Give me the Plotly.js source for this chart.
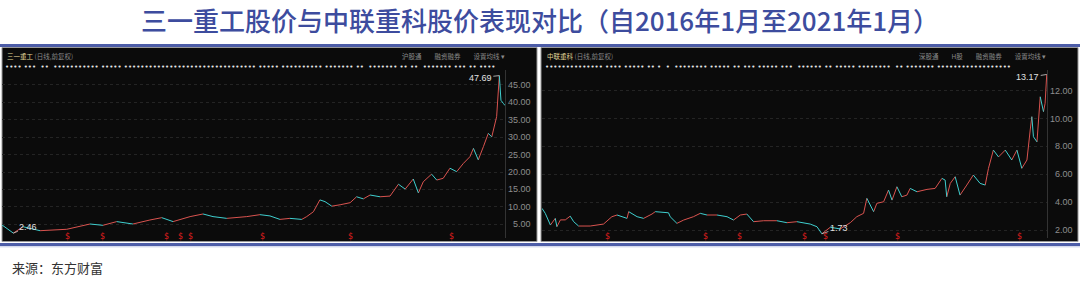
<!DOCTYPE html>
<html><head><meta charset="utf-8">
<script src="https://cdn.plot.ly/plotly-3.0.1.min.js"></script>
<style>html,body{margin:0;padding:0;background:#fff;}#chart{width:1080px;height:283px;}</style>
</head><body><div id="chart"></div>
<script>
// ---- Data ----
const titleText = '三一重工股价与中联重科股价表现对比（自2016年1月至2021年1月）';
const sourceText = '来源：东方财富';
const stock1Name = '三一重工';
const stock2Name = '中联重科';

const sanyDates = ['2016-01-04','2016-02-15','2016-03-22','2016-05-24','2016-08-31','2016-11-25','2017-01-12','2017-03-04','2017-05-03','2017-07-05','2017-08-18','2017-09-29','2017-12-01','2018-01-18','2018-02-24','2018-04-16','2018-06-29','2018-08-17','2018-09-23','2018-10-30','2018-12-06','2019-01-19','2019-02-06','2019-03-03','2019-03-27','2019-04-15','2019-05-10','2019-06-10','2019-07-17','2019-08-10','2019-09-04','2019-09-29','2019-11-05','2019-12-12','2020-01-12','2020-02-06','2020-03-07','2020-03-26','2020-04-13','2020-05-14','2020-06-02','2020-06-26','2020-07-21','2020-08-15','2020-09-09','2020-10-03','2020-10-16','2020-11-03','2020-11-22','2020-12-10','2020-12-23','2021-01-10','2021-01-20','2021-01-26','2021-02-04','2021-02-10'];
const sanyPrices = [4.8,2.46,4.3,3.16,3.56,5.08,4.7,5.77,5.08,6.23,6.9,5.77,7.2,7.96,7.2,6.7,7.2,7.76,7.4,6.4,6.7,6.4,7.2,8.6,12.0,11.5,10.2,10.6,11.2,12.9,12.3,13.4,12.9,13.1,16.5,15.1,18.0,14.0,17.2,19.4,17.7,18.2,21.1,20.1,22.5,24.4,26.8,23.5,27.3,31.1,30.1,35.9,47.69,40.6,39.7,39.1];

const zoomlionDates = ['2016-01-04','2016-01-16','2016-02-04','2016-02-22','2016-02-28','2016-03-12','2016-03-30','2016-04-17','2016-04-30','2016-05-18','2016-06-30','2016-08-18','2016-09-18','2016-10-07','2016-11-13','2016-11-19','2016-12-20','2017-01-13','2017-02-13','2017-02-25','2017-04-15','2017-04-21','2017-05-16','2017-06-10','2017-07-16','2017-08-10','2017-09-04','2017-10-11','2017-11-17','2017-12-11','2018-01-05','2018-01-29','2018-02-23','2018-04-01','2018-05-20','2018-06-26','2018-08-02','2018-09-20','2018-10-15','2018-11-02','2018-12-03','2019-01-09','2019-02-15','2019-03-11','2019-04-05','2019-04-17','2019-05-12','2019-05-24','2019-06-18','2019-07-06','2019-07-19','2019-08-06','2019-08-24','2019-09-12','2019-09-24','2019-10-19','2019-11-25','2019-12-25','2020-01-19','2020-01-31','2020-02-06','2020-02-19','2020-03-08','2020-03-26','2020-04-20','2020-05-14','2020-06-08','2020-06-27','2020-07-09','2020-07-27','2020-08-15','2020-09-09','2020-10-03','2020-10-22','2020-11-09','2020-11-28','2020-12-10','2020-12-16','2020-12-22','2021-01-04','2021-01-16','2021-01-28','2021-02-03','2021-02-09'];
const zoomlionPrices = [3.56,3.2,2.36,2.84,2.24,2.73,2.73,3.0,2.6,2.29,2.29,2.43,2.96,3.08,2.84,3.32,2.96,2.84,3.15,3.32,3.24,2.96,2.48,2.72,2.96,3.2,3.08,3.08,2.96,2.72,3.08,3.15,2.6,2.67,2.67,2.53,2.6,2.43,2.24,1.73,2.2,2.08,2.53,2.96,3.2,4.28,3.32,3.92,4.03,4.87,4.15,5.11,4.39,4.51,4.99,4.75,4.92,4.99,5.71,5.59,4.39,5.35,5.83,4.51,5.23,5.95,5.35,5.23,6.43,7.74,7.25,7.74,7.03,7.74,6.43,7.03,9.18,10.14,8.7,8.33,11.57,10.5,11.1,13.17];

const sanyTicks = [5,10,15,20,25,30,35,40,45];
const zoomlionTicks = [2,4,6,8,10,12];

const sanyMarkerDates = ['2016-09-01','2017-01-09','2017-09-03','2017-10-28','2017-12-04','2018-08-28','2019-07-20','2020-07-25'];
const zoomlionMarkerDates = ['2016-08-31','2017-08-31','2018-01-02','2018-08-29','2018-11-14','2019-08-10','2020-10-30'];

const sanyHeaderRight = '沪股通　　融资融券　　设置均线 ▾';
const zoomlionHeaderRight = '深股通　　H股　　融资融券　　设置均线 ▾';
const headerSub = '(日线,前复权)';

// ---- helpers ----
const W = 1080, H = 283;
const px = v => v / W;
const py = v => (H - v) / H;
const UP = '#d9534f', DN = '#3fcfcf';

function split(dates, vals) {
  const up = {x: [], y: []}, dn = {x: [], y: []};
  for (let i = 1; i < vals.length; i++) {
    const t = vals[i] >= vals[i - 1] ? up : dn;
    t.x.push(dates[i - 1], dates[i], null);
    t.y.push(vals[i - 1], vals[i], null);
  }
  return [up, dn];
}
function segTraces(dates, vals, xa, ya) {
  const [up, dn] = split(dates, vals);
  return [
    {type: 'scatter', mode: 'lines', x: up.x, y: up.y, xaxis: xa, yaxis: ya, line: {color: UP, width: 1}, connectgaps: false, hoverinfo: 'skip', showlegend: false},
    {type: 'scatter', mode: 'lines', x: dn.x, y: dn.y, xaxis: xa, yaxis: ya, line: {color: DN, width: 1}, connectgaps: false, hoverinfo: 'skip', showlegend: false}
  ];
}

const data = [
  ...segTraces(sanyDates, sanyPrices, 'x', 'y'),
  ...segTraces(zoomlionDates, zoomlionPrices, 'x2', 'y2')
];

const xr = ['2016-01-04', '2021-02-10'];
const yDom = [py(238), py(70)];
const tickFont = {family: 'Liberation Sans, Arial, sans-serif', size: 9, color: '#8e8e8e'};
const baseX = {showgrid: false, zeroline: false, showticklabels: false, showline: false, ticks: '', type: 'date', range: xr, fixedrange: true};
const baseY = {domain: yDom, side: 'right', showline: true, linecolor: '#333333', linewidth: 1, showgrid: true, gridcolor: '#242424', griddash: 'dot', gridwidth: 1, zeroline: false, showticklabels: false, ticks: '', fixedrange: true};

const shapes = [
  {type: 'rect', xref: 'paper', yref: 'paper', x0: px(2), x1: px(537), y0: py(241.5), y1: py(47.5), fillcolor: '#0b0b0b', line: {color: '#9a9a9a', width: 1}, layer: 'below'},
  {type: 'rect', xref: 'paper', yref: 'paper', x0: px(541), x1: px(1078), y0: py(241.5), y1: py(47.5), fillcolor: '#0b0b0b', line: {color: '#9a9a9a', width: 1}, layer: 'below'},
  {type: 'line', xref: 'paper', yref: 'paper', x0: 0, x1: 1, y0: py(45.5), y1: py(45.5), line: {color: '#4d5da8', width: 3}, layer: 'above'},
  {type: 'line', xref: 'paper', yref: 'paper', x0: 0, x1: 1, y0: py(244.5), y1: py(244.5), line: {color: '#4d5da8', width: 3}, layer: 'above'},
  {type: 'line', xref: 'paper', yref: 'paper', x0: 0, x1: 1, y0: py(246.8), y1: py(246.8), line: {color: '#c3cae6', width: 1}, layer: 'above'}
];

const hdrFont = {family: 'Noto Sans CJK SC, sans-serif', size: 6.5, color: '#8a8a8a'};
const dotFont = {family: 'DejaVu Sans, sans-serif', size: 7, color: '#e6e6e6'};
const dots1 = '•••• •••  ••  ••••••••••• ••••• •••••••••••••••••••••••••••••••• ••••• •••••••••• ••••••• ••  ••••••• •• ••  ••••••• ••• •• ••••';
const dots2 = '•••••••••••••• •••• ••••• •• •  •  •••••••• ••••• •• ••• ••••• •••  •••••• •• ••••• ••••••••  •• ••••••• ••••••••••••••••••';

const annotations = [
  {text: '<span style="color:#e2d79a">' + stock1Name + '</span> ' + headerSub, xref: 'paper', yref: 'paper', x: px(5), y: py(56.5), xanchor: 'left', yanchor: 'middle', showarrow: false, font: hdrFont},
  {text: '<span style="color:#e2d79a">' + stock2Name + '</span> ' + headerSub, xref: 'paper', yref: 'paper', x: px(545), y: py(56.5), xanchor: 'left', yanchor: 'middle', showarrow: false, font: hdrFont},
  {text: sanyHeaderRight, xref: 'paper', yref: 'paper', x: px(507), y: py(56.5), xanchor: 'right', yanchor: 'middle', showarrow: false, font: hdrFont},
  {text: zoomlionHeaderRight, xref: 'paper', yref: 'paper', x: px(1048), y: py(56.5), xanchor: 'right', yanchor: 'middle', showarrow: false, font: hdrFont},
  {text: dots1, xref: 'paper', yref: 'paper', x: px(3), y: py(67), xanchor: 'left', yanchor: 'middle', showarrow: false, font: dotFont},
  {text: dots2, xref: 'paper', yref: 'paper', x: px(543), y: py(67), xanchor: 'left', yanchor: 'middle', showarrow: false, font: dotFont},
  {text: sourceText, xref: 'paper', yref: 'paper', x: px(10), y: py(267), xanchor: 'left', yanchor: 'middle', showarrow: false, font: {family: 'Noto Sans CJK SC, sans-serif', size: 13, color: '#333333'}}
];

// y tick labels (right-aligned, placed through the y scales)
sanyTicks.forEach(v => annotations.push({text: v.toFixed(2), xref: 'paper', yref: 'y', x: px(533), y: v, xanchor: 'right', yanchor: 'middle', showarrow: false, font: tickFont}));
zoomlionTicks.forEach(v => annotations.push({text: v.toFixed(2), xref: 'paper', yref: 'y2', x: px(1075), y: v, xanchor: 'right', yanchor: 'middle', showarrow: false, font: tickFont}));

// high / low labels
function extremeLabel(dates, vals, xa, ya, which, ax, ay) {
  let idx = 0;
  for (let i = 1; i < vals.length; i++) {
    if (which === 'max' ? vals[i] > vals[idx] : vals[i] < vals[idx]) idx = i;
  }
  return {text: vals[idx].toFixed(2), x: dates[idx], y: vals[idx], xref: xa, yref: ya, showarrow: true, arrowhead: 0, arrowwidth: 0.8, arrowcolor: '#cfcfcf', ax: ax, ay: ay, font: {family: 'Liberation Sans, Arial, sans-serif', size: 9, color: '#e0e0e0'}};
}
annotations.push(extremeLabel(sanyDates, sanyPrices, 'x', 'y', 'max', -19, 2));
annotations.push(extremeLabel(sanyDates, sanyPrices, 'x', 'y', 'min', 15, -6));
annotations.push(extremeLabel(zoomlionDates, zoomlionPrices, 'x2', 'y2', 'max', -19, 3));
annotations.push(extremeLabel(zoomlionDates, zoomlionPrices, 'x2', 'y2', 'min', 17, -6));

// dividend markers
const mFont = {family: 'DejaVu Sans, sans-serif', size: 8, color: '#e01e1e'};
sanyMarkerDates.forEach(d => annotations.push({text: '$', x: d, xref: 'x', y: py(236), yref: 'paper', xanchor: 'center', yanchor: 'middle', showarrow: false, font: mFont}));
zoomlionMarkerDates.forEach(d => annotations.push({text: '$', x: d, xref: 'x2', y: py(236), yref: 'paper', xanchor: 'center', yanchor: 'middle', showarrow: false, font: mFont}));

const r1 = [1.06, 49.3], r2 = [1.43, 13.49];
const layout = {
  width: W, height: H,
  margin: {l: 0, r: 0, t: 0, b: 0, pad: 0},
  paper_bgcolor: '#ffffff', plot_bgcolor: 'rgba(0,0,0,0)',
  showlegend: false,
  title: {text: titleText, x: 0.5, xanchor: 'center', y: py(22), yanchor: 'middle', font: {family: 'Noto Sans CJK SC, sans-serif', size: 26, color: '#3d4c9e', weight: 500}},
  xaxis: Object.assign({}, baseX, {domain: [px(2), px(505)], anchor: 'y'}),
  xaxis2: Object.assign({}, baseX, {domain: [px(542), px(1047)], anchor: 'y2'}),
  yaxis: Object.assign({}, baseY, {anchor: 'x', range: r1, tickvals: sanyTicks}),
  yaxis2: Object.assign({}, baseY, {anchor: 'x2', range: r2, tickvals: zoomlionTicks}),
  shapes: shapes,
  annotations: annotations
};

Plotly.newPlot('chart', data, layout, {staticPlot: true, displayModeBar: false});
</script>
</body></html>
